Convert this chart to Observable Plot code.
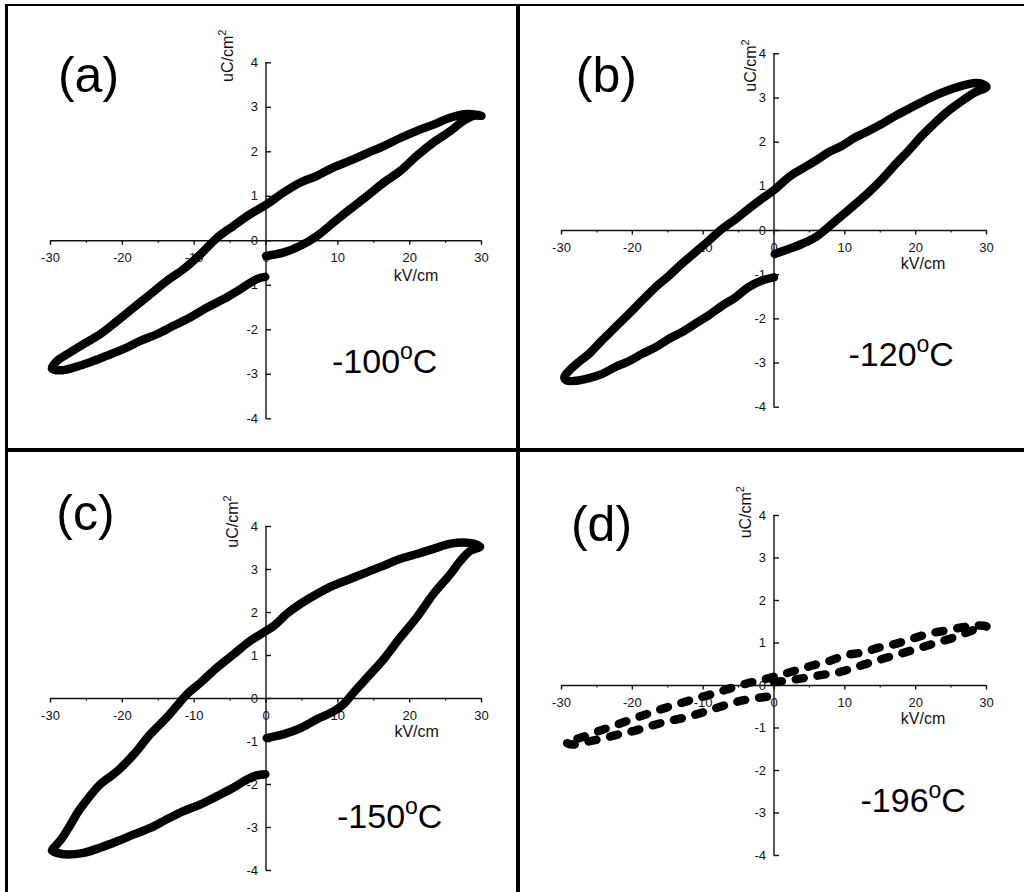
<!DOCTYPE html>
<html>
<head>
<meta charset="utf-8">
<script src="https://cdn.jsdelivr.net/npm/d3@7"></script>
<script src="https://cdn.jsdelivr.net/npm/@observablehq/plot@0.6"></script>
<style>
  body { margin: 0; background: #fff; }
  #fig { position: relative; width: 1024px; height: 892px; overflow: hidden; font-family: "Liberation Sans", Arial, sans-serif; }
  .panel { position: absolute; }
  .rule { position: absolute; background: #000; }
</style>
</head>
<body>
<div id="fig"></div>
<script>
// ---------- data ----------
const panelIds = ["(a)", "(b)", "(c)", "(d)"];
const temperatures = ["-100", "-120", "-150", "-196"];
const xTicks = [-30, -20, -10, 0, 10, 20, 30];
const xMinorTicks = [-25, -15, -5, 5, 15, 25];
const yTicks = [-4, -3, -2, -1, 0, 1, 2, 3, 4];
const xLabel = "kV/cm";
const yLabel = "uC/cm2";

// hysteresis loops: [E (kV/cm), P (uC/cm2)] in measurement order
const loopA = [
  [0, -0.34], [2.5, -0.26], [4.8, -0.11], [7.1, 0.11], [9.4, 0.41], [11.7, 0.71], [14.1, 1.01], [16.4, 1.31],
  [18.7, 1.57], [21, 1.91], [23.3, 2.21], [25.7, 2.47], [27.5, 2.70], [28.9, 2.81], [30, 2.81],
  [28, 2.85], [25.7, 2.77], [23.3, 2.61], [21, 2.47], [18.7, 2.31], [16.4, 2.13], [14.1, 1.97], [11.7, 1.80],
  [9.4, 1.65], [7.1, 1.46], [4.8, 1.31], [2.5, 1.09], [0.1, 0.82], [-2.2, 0.60], [-4.5, 0.34], [-6.8, 0.07],
  [-9.1, -0.30], [-11.5, -0.64], [-13.8, -0.90], [-16.1, -1.20], [-18.4, -1.50], [-20.7, -1.80], [-23.1, -2.10],
  [-25.4, -2.32], [-27.7, -2.55], [-29.1, -2.70], [-29.8, -2.87],
  [-28.6, -2.91], [-26.8, -2.85], [-24.5, -2.73], [-22.1, -2.58], [-19.8, -2.43], [-17.5, -2.25], [-15.2, -2.10],
  [-12.9, -1.91], [-10.5, -1.72], [-8.2, -1.50], [-5.9, -1.31], [-3.6, -1.09], [-1.3, -0.86], [-0.1, -0.81]
];
const loopB = [
  [0.1, -0.53], [2.1, -0.42], [4.0, -0.30], [5.9, -0.15], [7.7, 0.08], [9.6, 0.34], [11.5, 0.60], [13.4, 0.87],
  [15.3, 1.17], [17.2, 1.51], [19.0, 1.81], [20.9, 2.15], [22.8, 2.45], [24.7, 2.72], [26.6, 2.94], [28.4, 3.13], [30, 3.25],
  [29.4, 3.32], [28.4, 3.34], [26.6, 3.28], [24.7, 3.18], [22.8, 3.06], [20.9, 2.91], [19.0, 2.75], [17.2, 2.60],
  [15.3, 2.42], [13.4, 2.26], [11.5, 2.11], [9.6, 1.92], [7.7, 1.77], [5.9, 1.58], [4.0, 1.40], [2.1, 1.21], [0.2, 0.94],
  [-1.7, 0.72], [-3.6, 0.49], [-5.4, 0.26], [-7.3, 0.04], [-9.2, -0.23], [-11.1, -0.49], [-13.0, -0.75], [-14.8, -1.02],
  [-16.7, -1.28], [-18.6, -1.58], [-20.5, -1.89], [-22.4, -2.19], [-24.3, -2.49], [-26.1, -2.79], [-27.6, -2.98],
  [-28.9, -3.17], [-29.6, -3.32],
  [-29.2, -3.40], [-28.0, -3.40], [-26.1, -3.34], [-24.3, -3.25], [-22.4, -3.09], [-20.5, -2.96], [-18.6, -2.79],
  [-16.7, -2.64], [-14.8, -2.45], [-13.0, -2.30], [-11.1, -2.11], [-9.2, -1.92], [-7.3, -1.70], [-5.4, -1.51],
  [-3.6, -1.28], [-1.7, -1.13], [0, -1.06]
];
const loopC = [
  [0.1, -0.92], [2.5, -0.83], [4.8, -0.69], [7.1, -0.48], [9.4, -0.30], [10.8, -0.13], [12.2, 0.14], [14.1, 0.49],
  [16.4, 0.92], [18.7, 1.42], [21.0, 1.89], [23.3, 2.43], [25.7, 2.90], [27.1, 3.21], [28.5, 3.44], [29.8, 3.53],
  [28.9, 3.60], [27.5, 3.63], [25.7, 3.60], [23.3, 3.48], [21.0, 3.36], [18.7, 3.25], [16.4, 3.09], [14.1, 2.94],
  [11.7, 2.78], [9.4, 2.63], [7.1, 2.43], [4.8, 2.20], [2.9, 1.97], [1.1, 1.69], [-0.3, 1.54], [-2.2, 1.34],
  [-4.5, 1.03], [-6.8, 0.72], [-9.1, 0.37], [-11.0, 0.10], [-12.4, -0.17], [-13.8, -0.44], [-16.1, -0.83],
  [-18.4, -1.30], [-20.7, -1.69], [-23.1, -2.00], [-24.9, -2.35], [-26.1, -2.62], [-27.2, -2.93], [-28.4, -3.25],
  [-29.3, -3.43], [-29.8, -3.53],
  [-29.1, -3.59], [-27.7, -3.63], [-25.4, -3.59], [-23.1, -3.47], [-20.7, -3.32], [-18.4, -3.16], [-16.1, -3.01],
  [-13.8, -2.81], [-11.5, -2.62], [-9.1, -2.46], [-6.8, -2.27], [-4.5, -2.07], [-2.6, -1.88], [-1.3, -1.79], [-0.1, -1.76]
];
const loopD = [
  [0, 0.08], [2.1, 0.12], [4.4, 0.18], [6.8, 0.25], [9.1, 0.31], [11.5, 0.43], [13.8, 0.55], [16.2, 0.67],
  [18.5, 0.78], [20.9, 0.90], [23.2, 1.02], [25.6, 1.14], [27.9, 1.29], [30, 1.39],
  [28.5, 1.41], [26.6, 1.37], [24.2, 1.29], [21.9, 1.22], [19.5, 1.10], [17.2, 0.98], [14.8, 0.89], [12.5, 0.78],
  [10.1, 0.71], [7.7, 0.57], [5.4, 0.47], [3.0, 0.35], [0.7, 0.24], [-1.7, 0.13], [-4.0, 0.04], [-6.4, -0.08],
  [-8.7, -0.20], [-11.1, -0.31], [-13.4, -0.43], [-15.8, -0.55], [-18.1, -0.68], [-20.5, -0.82], [-22.8, -0.96],
  [-25.2, -1.10], [-27.5, -1.24], [-29.4, -1.33],
  [-28.5, -1.39], [-26.6, -1.33], [-24.3, -1.25], [-21.9, -1.15], [-19.6, -1.06], [-17.2, -0.94], [-14.9, -0.84],
  [-12.5, -0.75], [-10.2, -0.64], [-7.8, -0.51], [-5.4, -0.39], [-3.1, -0.31], [-0.7, -0.26]
];
const loops = [loopA, loopB, loopC, loopD];

// ---------- layout (pixels) ----------
const layouts = [
  {left: 0,   top: 0,   width: 517, height: 449, mL: 50, mR: 36, mT: 62.3, mB: 30.7,
   id: [38, 12.7], xl: [150, 35], yl: [-37.7, -7], temp: [66, 132]},
  {left: 517, top: 0,   width: 507, height: 449, mL: 44, mR: 38, mT: 53.3, mB: 42.3,
   id: [44.8, 21.7], xl: [149, 33.5], yl: [-22.7, 11.7], temp: [74.5, 135]},
  {left: 0,   top: 449, width: 517, height: 443, mL: 50, mR: 36, mT: 77, mB: 22,
   id: [35, -12.3], xl: [150.6, 33], yl: [-33, -5], temp: [71, 129]},
  {left: 517, top: 449, width: 507, height: 443, mL: 44, mR: 38, mT: 66, mB: 37,
   id: [40, 9.5], xl: [149, 33.5], yl: [-27.7, -3.3], temp: [86.5, 126.7]}
];

const ink = "#111";
const fig = document.getElementById("fig");
const NS = "http://www.w3.org/2000/svg";

function superscript(svg, match, base, sup, supSize, shift, after) {
  for (const t of svg.querySelectorAll("text")) {
    if (t.textContent === match) {
      t.textContent = "";
      const a = document.createElementNS(NS, "tspan");
      a.textContent = base;
      const b = document.createElementNS(NS, "tspan");
      b.textContent = sup;
      b.setAttribute("font-size", supSize);
      b.setAttribute("dy", -shift);
      t.appendChild(a); t.appendChild(b);
      if (after) {
        const c = document.createElementNS(NS, "tspan");
        c.textContent = after;
        c.setAttribute("dy", shift);
        t.appendChild(c);
      }
    }
  }
}

layouts.forEach((L, i) => {
  const tempText = temperatures[i] + "oC";
  const plot = Plot.plot({
    width: L.width, height: L.height,
    marginLeft: L.mL, marginRight: L.mR, marginTop: L.mT, marginBottom: L.mB,
    x: {domain: [-30, 30], axis: null},
    y: {domain: [-4, 4], axis: null},
    style: {fontFamily: '"Liberation Sans", Arial, sans-serif', background: "transparent", overflow: "visible", color: ink},
    marks: [
      // axes crossing at origin
      Plot.ruleY([0], {x1: -30, x2: 30, stroke: ink, strokeWidth: 1.4}),
      Plot.ruleX([0], {y1: -4, y2: 4, stroke: ink, strokeWidth: 1.4}),
      Plot.ruleX(xTicks, {x: d => d, y1: 0, y2: 0, insetBottom: -4.5, stroke: ink, strokeWidth: 1.4}),
      Plot.ruleX(xMinorTicks, {x: d => d, y1: 0, y2: 0, insetBottom: -2.5, stroke: ink, strokeWidth: 1.2}),
      Plot.ruleY(yTicks, {y: d => d, x1: 0, x2: 0, insetRight: -5.5, stroke: ink, strokeWidth: 1.4}),
      // tick labels
      Plot.text(xTicks, {x: d => d, y: 0, text: d => String(d), dy: 17, fontSize: 13, fill: ink}),
      Plot.text(yTicks, {x: 0, y: d => d, text: d => String(d), dx: -8, textAnchor: "end", fontSize: 13, fill: ink}),
      // axis titles
      Plot.text([xLabel], {x: 0, y: 0, text: d => d, dx: L.xl[0], dy: L.xl[1], fontSize: 16, fill: ink}),
      Plot.text([yLabel], {x: 0, y: 4, text: d => d, dx: L.yl[0], dy: L.yl[1], rotate: -90, fontSize: 16, fill: ink}),
      // panel id and temperature
      Plot.text([panelIds[i]], {x: -30, y: 4, text: d => d, dx: L.id[0], dy: L.id[1], fontSize: 50, fill: "#000"}),
      Plot.text([tempText], {x: 0, y: 0, text: d => d, dx: L.temp[0], dy: L.temp[1], textAnchor: "start", lineAnchor: "bottom", fontSize: 34, fill: "#000"}),
      // hysteresis loop
      Plot.line(loops[i], {
        x: d => d[0], y: d => d[1], curve: "catmull-rom",
        stroke: "#000", strokeWidth: 8.5, strokeLinecap: "round", strokeLinejoin: "round",
        strokeDasharray: i === 3 ? "8,14" : null
      })
    ]
  });
  superscript(plot, yLabel, "uC/cm", "2", 11, 7, null);
  superscript(plot, tempText, temperatures[i], "o", 23, 14, "C");
  plot.classList.add("panel");
  plot.style.left = L.left + "px";
  plot.style.top = L.top + "px";
  fig.appendChild(plot);
});

// panel frame lines
const frameLines = [
  {left: 5, top: 4, width: 1019, height: 2},
  {left: 5, top: 4, width: 2.5, height: 888},
  {left: 516, top: 4, width: 4, height: 888},
  {left: 5, top: 448, width: 1019, height: 4}
];
frameLines.forEach(f => {
  const d = document.createElement("div");
  d.className = "rule";
  Object.assign(d.style, {left: f.left + "px", top: f.top + "px", width: f.width + "px", height: f.height + "px"});
  fig.appendChild(d);
});
</script>
</body>
</html>
